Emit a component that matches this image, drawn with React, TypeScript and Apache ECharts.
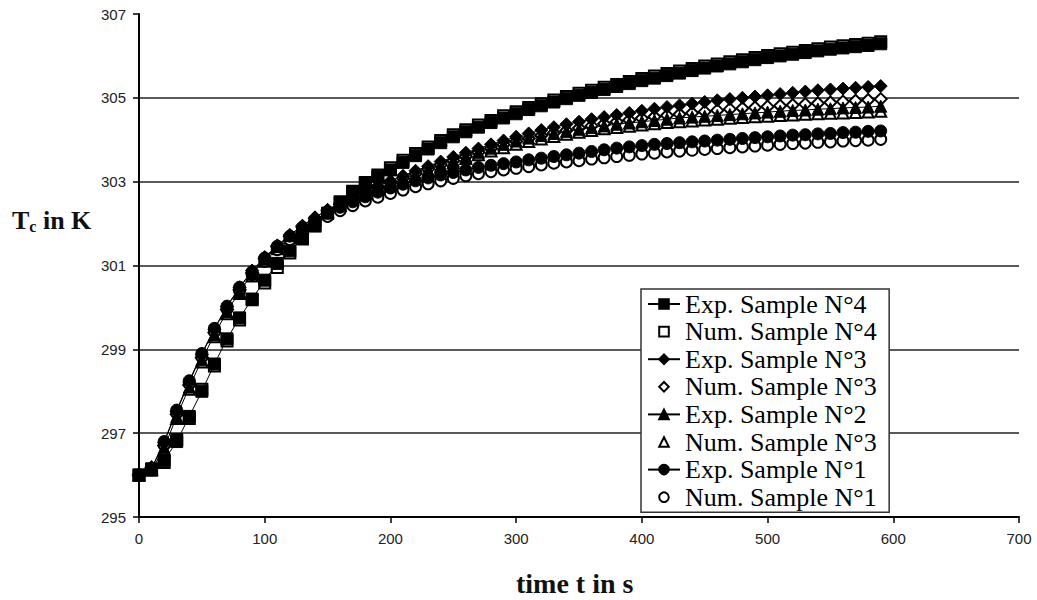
import React, { useEffect, useRef } from "react";
import * as echarts from "echarts";

const times: number[] = [
  0, 10, 20, 30, 40, 50, 60, 70, 80, 90, 100, 110, 120, 130, 140, 150, 160, 170, 180, 190,
  200, 210, 220, 230, 240, 250, 260, 270, 280, 290, 300, 310, 320, 330, 340, 350, 360, 370, 380, 390,
  400, 410, 420, 430, 440, 450, 460, 470, 480, 490, 500, 510, 520, 530, 540, 550, 560, 570, 580, 590,
];

const exp4: number[] = [
  296.0, 296.15, 296.35, 296.8, 297.4, 298.0, 298.65, 299.25, 299.75, 300.2,
  300.65, 301.05, 301.35, 301.65, 301.95, 302.25, 302.5, 302.75, 302.95, 303.12,
  303.28, 303.46, 303.62, 303.78, 303.93, 304.07, 304.19, 304.3, 304.41, 304.52,
  304.62, 304.72, 304.81, 304.9, 304.98, 305.06, 305.13, 305.2, 305.27, 305.34,
  305.41, 305.47, 305.53, 305.59, 305.65, 305.71, 305.76, 305.81, 305.86, 305.91,
  305.96, 306.0, 306.04, 306.08, 306.12, 306.16, 306.19, 306.22, 306.25, 306.29,
];
const num4: number[] = [
  296.0, 296.12, 296.3, 296.85, 297.35, 298.05, 298.6, 299.2, 299.7, 300.18,
  300.58, 300.95, 301.3, 301.63, 301.94, 302.24, 302.52, 302.77, 302.98, 303.16,
  303.33, 303.51, 303.67, 303.83, 303.98, 304.12, 304.24, 304.35, 304.46, 304.57,
  304.67, 304.77, 304.86, 304.95, 305.03, 305.11, 305.18, 305.25, 305.32, 305.39,
  305.46, 305.52, 305.58, 305.64, 305.7, 305.76, 305.81, 305.86, 305.91, 305.96,
  306.01, 306.05, 306.09, 306.13, 306.17, 306.21, 306.24, 306.27, 306.3, 306.34,
];
const exp3: number[] = [
  296.0, 296.15, 296.78, 297.52, 298.22, 298.88, 299.48, 300.02, 300.48, 300.88,
  301.2, 301.48, 301.73, 301.95, 302.15, 302.33, 302.49, 302.64, 302.78, 302.9,
  303.02, 303.14, 303.26, 303.37, 303.48, 303.59, 303.69, 303.79, 303.89, 303.98,
  304.07, 304.15, 304.23, 304.3, 304.37, 304.43, 304.49, 304.54, 304.59, 304.64,
  304.69, 304.74, 304.78, 304.82, 304.86, 304.9, 304.94, 304.97, 305.0, 305.03,
  305.06, 305.09, 305.12, 305.15, 305.18, 305.2, 305.22, 305.24, 305.26, 305.28,
];
const num3: number[] = [
  296.0, 296.18, 296.7, 297.45, 298.15, 298.8, 299.4, 299.95, 300.42, 300.82,
  301.16, 301.45, 301.7, 301.92, 302.12, 302.3, 302.46, 302.61, 302.74, 302.86,
  302.97, 303.08, 303.19, 303.3, 303.4, 303.5, 303.6, 303.7, 303.79, 303.88,
  303.96, 304.03, 304.1, 304.16, 304.22, 304.28, 304.33, 304.38, 304.43, 304.47,
  304.51, 304.55, 304.58, 304.61, 304.64, 304.67, 304.7, 304.73, 304.75, 304.77,
  304.79, 304.81, 304.83, 304.85, 304.87, 304.89, 304.91, 304.93, 304.95, 304.97,
];
const exp2: number[] = [
  296.0, 296.12, 296.65, 297.4, 298.1, 298.75, 299.35, 299.9, 300.38, 300.8,
  301.15, 301.45, 301.72, 301.95, 302.15, 302.32, 302.47, 302.6, 302.73, 302.84,
  302.95, 303.06, 303.17, 303.28, 303.39, 303.5, 303.6, 303.7, 303.8, 303.89,
  303.97, 304.04, 304.1, 304.15, 304.2, 304.25, 304.29, 304.33, 304.37, 304.4,
  304.43, 304.46, 304.49, 304.52, 304.54, 304.56, 304.58, 304.6, 304.62, 304.64,
  304.66, 304.68, 304.7, 304.71, 304.73, 304.74, 304.76, 304.77, 304.78, 304.8,
];
const num3b: number[] = [
  296.0, 296.14, 296.6, 297.35, 298.05, 298.7, 299.3, 299.85, 300.33, 300.75,
  301.1, 301.4, 301.67, 301.9, 302.1, 302.28, 302.44, 302.58, 302.71, 302.82,
  302.92, 303.03, 303.14, 303.25, 303.35, 303.45, 303.55, 303.64, 303.73, 303.81,
  303.89, 303.96, 304.02, 304.08, 304.13, 304.18, 304.22, 304.26, 304.29, 304.32,
  304.35, 304.38, 304.41, 304.43, 304.45, 304.47, 304.49, 304.51, 304.53, 304.55,
  304.56, 304.58, 304.59, 304.61, 304.62, 304.63, 304.64, 304.65, 304.66, 304.68,
];
const exp1: number[] = [
  296.0, 296.16, 296.8, 297.55, 298.25, 298.9, 299.5, 300.03, 300.48, 300.85,
  301.18, 301.46, 301.7, 301.91, 302.09, 302.25, 302.39, 302.52, 302.64, 302.75,
  302.85, 302.94, 303.02, 303.09, 303.16, 303.22, 303.28, 303.34, 303.39, 303.43,
  303.47, 303.52, 303.56, 303.6, 303.64, 303.68, 303.72, 303.76, 303.8, 303.83,
  303.86, 303.89, 303.91, 303.93, 303.95, 303.97, 303.99, 304.01, 304.03, 304.05,
  304.07, 304.09, 304.11, 304.12, 304.14, 304.15, 304.17, 304.18, 304.2, 304.21,
];
const num1: number[] = [
  296.0, 296.13, 296.72, 297.48, 298.18, 298.82, 299.42, 299.96, 300.4, 300.78,
  301.1, 301.38, 301.62, 301.83, 302.01, 302.17, 302.31, 302.43, 302.54, 302.63,
  302.72, 302.8, 302.88, 302.95, 303.02, 303.08, 303.14, 303.19, 303.24, 303.28,
  303.32, 303.36, 303.4, 303.44, 303.47, 303.5, 303.54, 303.57, 303.6, 303.63,
  303.66, 303.68, 303.71, 303.73, 303.75, 303.77, 303.79, 303.81, 303.83, 303.85,
  303.87, 303.89, 303.91, 303.92, 303.94, 303.95, 303.97, 303.98, 303.99, 304.01,
];

const gridValues: number[] = [297, 299, 301, 303, 305];

const legendNames: string[] = [
  "Exp. Sample N°4",
  "Num. Sample N°4",
  "Exp. Sample N°3",
  "Num. Sample N°3",
  "Exp. Sample N°2",
  "Num. Sample N°3 ",
  "Exp. Sample N°1",
  "Num. Sample N°1",
];

const SERIF = "Liberation Serif";
const SANS = "Liberation Sans";

const pair = (ys: number[]) => times.map((t, i) => [t, ys[i]]);

export default function App() {
  const ref = useRef<HTMLDivElement>(null);
  useEffect(() => {
    if (!ref.current) return;
    const chart = echarts.init(ref.current, undefined, { renderer: "svg" });

    const numSeries = (name: string, data: number[], symbol: string, size: number) => ({
      name,
      type: "line",
      data: pair(data),
      symbol,
      symbolSize: size,
      showSymbol: true,
      lineStyle: { opacity: 0, width: 0 },
      itemStyle: { color: "#ffffff", borderColor: "#000000", borderWidth: 2 },
      z: 2,
    });
    const expSeries = (name: string, data: number[], symbol: string, size: number) => ({
      name,
      type: "line",
      data: pair(data),
      symbol,
      symbolSize: size,
      showSymbol: true,
      lineStyle: { color: "#000000", width: 1 },
      itemStyle: { color: "#000000", borderColor: "#000000", borderWidth: 1 },
      z: 3,
    });

    const option: any = {
      animation: false,
      backgroundColor: "#ffffff",
      textStyle: { fontFamily: SERIF },
      grid: { left: 139, right: 18, top: 14, bottom: 83, containLabel: false },
      xAxis: {
        type: "value",
        min: 0,
        max: 700,
        interval: 100,
        axisLine: { show: true, onZero: false, lineStyle: { color: "#000000", width: 2 } },
        axisTick: { show: true, inside: false, length: 6, lineStyle: { color: "#000000", width: 1.5 } },
        axisLabel: { color: "#222222", fontFamily: SANS, fontSize: 15, margin: 14 },
        splitLine: { show: false },
      },
      yAxis: {
        type: "value",
        min: 295,
        max: 307,
        interval: 2,
        axisLine: { show: true, onZero: false, lineStyle: { color: "#000000", width: 2 } },
        axisTick: { show: true, inside: false, length: 6, lineStyle: { color: "#000000", width: 1.5 } },
        axisLabel: { color: "#222222", fontFamily: SANS, fontSize: 15, margin: 13 },
        splitLine: { show: false },
      },
      legend: {
        orient: "vertical",
        left: 641,
        top: 289,
        padding: [2, 6, 2, 6],
        itemWidth: 32,
        itemHeight: 12,
        itemGap: 1.6,
        backgroundColor: "#ffffff",
        borderColor: "#333333",
        borderWidth: 1.5,
        borderRadius: 0,
        data: legendNames,
        textStyle: {
          fontFamily: SERIF,
          fontSize: 26,
          color: "#000000",
        },
      },
      graphic: [
        {
          type: "text",
          left: 12,
          top: 207,
          style: {
            text: "{a|T}{b|c}{a| in K}",
            rich: {
              a: { fontFamily: SERIF, fontWeight: "bold", fontSize: 26, fill: "#111" },
              b: { fontFamily: SERIF, fontWeight: "bold", fontSize: 16, fill: "#111", padding: [12, 0, 0, 0] },
            },
          },
        },
        {
          type: "text",
          left: 516,
          top: 569,
          style: {
            text: "time t in s",
            fontFamily: SERIF,
            fontWeight: "bold",
            fontSize: 28,
            fill: "#111",
          },
        },
      ],
      series: [
        {
          ...numSeries(legendNames[1], num4, "rect", 11),
          markLine: {
            silent: true,
            symbol: ["none", "none"],
            label: { show: false },
            lineStyle: { color: "#222222", width: 1.5, type: "solid" },
            data: gridValues.map((v) => ({ yAxis: v })),
            z: 1,
          },
        },
        numSeries(legendNames[3], num3, "diamond", 12),
        numSeries(legendNames[5], num3b, "triangle", 11),
        numSeries(legendNames[7], num1, "circle", 11),
        expSeries(legendNames[0], exp4, "rect", 12),
        expSeries(legendNames[2], exp3, "diamond", 13),
        expSeries(legendNames[4], exp2, "triangle", 12),
        expSeries(legendNames[6], exp1, "circle", 12),
      ],
    };
    chart.setOption(option);
    return () => chart.dispose();
  }, []);
  return (
    <div
      ref={ref}
      style={{ position: "fixed", left: 0, top: 0, width: 1037, height: 600, background: "#fff" }}
    />
  );
}
